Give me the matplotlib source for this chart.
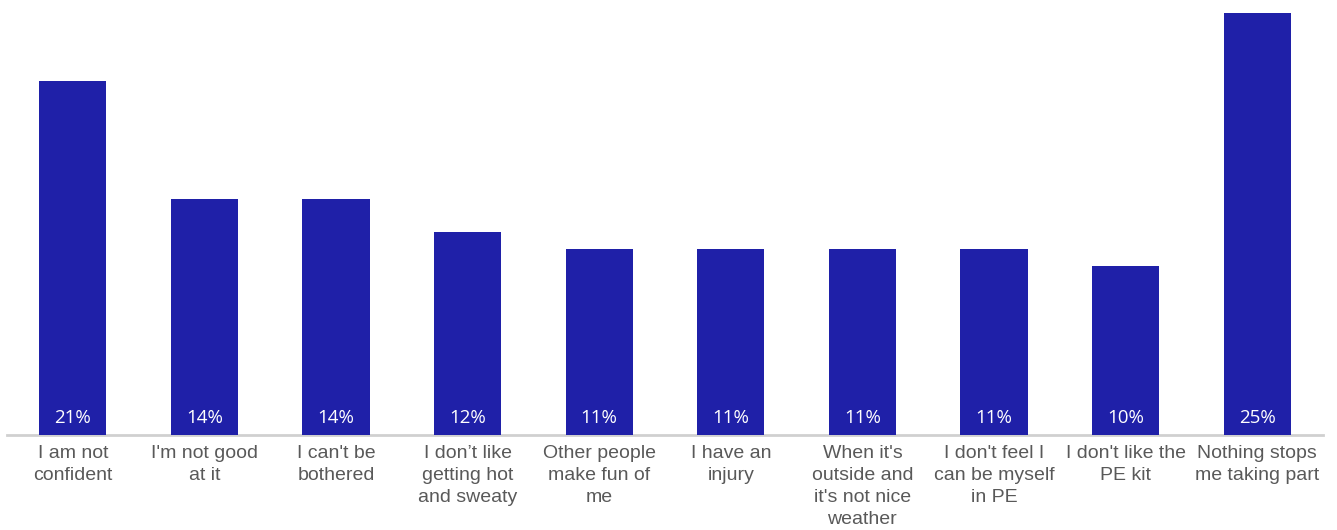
import matplotlib.pyplot as plt
import numpy as np

# Reasons for not taking part in PE
reasons = [
    "I am not\nconfident",
    "I'm not good\nat it",
    "I can't be\nbothered",
    "I don\u2019t like\ngetting hot\nand sweaty",
    "Other people\nmake fun of\nme",
    "I have an\ninjury",
    "When it's\noutside and\nit's not nice\nweather",
    "I don't feel I\ncan be myself\nin PE",
    "I don't like the\nPE kit",
    "Nothing stops\nme taking part",
]
percent = [21, 14, 14, 12, 11, 11, 11, 11, 10, 25]

bar_color = "#1f20a8"
label_color = "#595959"

fig = plt.figure(figsize=(13.37, 5.30), dpi=100)
ax = fig.add_axes([7 / 1337, 95 / 530, 1316 / 1337, 422 / 530])

x = np.arange(len(reasons))
ax.bar(x, percent, width=0.51, color=bar_color, zorder=2)

# value labels sit at the foot of each bar
for xi, v in zip(x, percent):
    ax.text(xi, 0.98, f"{v}%", ha="center", va="center", color="white",
            fontsize=13.5, family=["Open Sans", "DejaVu Sans"], zorder=3)

ax.set_xlim(-0.5, len(reasons) - 0.5)
ax.set_ylim(0, 25)
ax.set_yticks([])
ax.set_xticks(x)
ax.set_xticklabels(reasons, fontsize=14, color=label_color,
                   family=["Liberation Sans", "DejaVu Sans"], linespacing=1.38)
ax.tick_params(axis="x", length=0, pad=7)

for side in ["top", "right", "left"]:
    ax.spines[side].set_visible(False)
ax.spines["bottom"].set_color("#d0d0d0")
ax.spines["bottom"].set_linewidth(2)
ax.spines["bottom"].set_zorder(1)

fig.savefig("out.png", dpi=100)
